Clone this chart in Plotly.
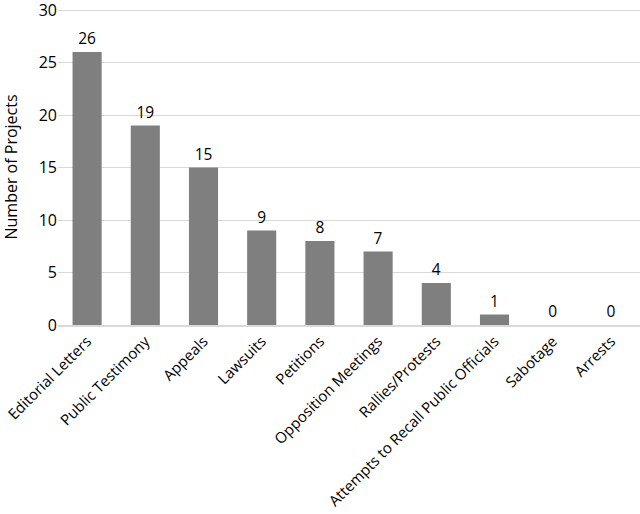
import plotly.graph_objects as go

categories = ["Editorial Letters", "Public Testimony", "Appeals", "Lawsuits", "Petitions",
              "Opposition Meetings", "Rallies/Protests", "Attempts to Recall Public Officials",
              "Sabotage", "Arrests"]
values = [26, 19, 15, 9, 8, 7, 4, 1, 0, 0]
y_ticks = [0, 5, 10, 15, 20, 25, 30]

font = "Open Sans, Liberation Sans, sans-serif"
fig = go.Figure(go.Bar(
    x=categories, y=values, marker_color="#7f7f7f",
    text=[str(v) for v in values], textposition="outside",
    textfont=dict(size=15.5, color="#000000", family=font), cliponaxis=False,
))
fig.update_layout(
    template="none",
    width=640, height=514,
    margin=dict(l=58, r=0, t=9, b=189, autoexpand=False),
    paper_bgcolor="white", plot_bgcolor="white",
    bargap=0.5, showlegend=False,
    font=dict(family=font, size=15, color="#000000"),
)
fig.update_xaxes(tickangle=-45, tickfont=dict(size=15), showline=True, linecolor="#d9d9d9",
                 linewidth=1.5, ticks="", showgrid=False, automargin=False)
fig.update_yaxes(range=[0, 30.1], tickvals=y_ticks, showgrid=True, gridcolor="#d9d9d9",
                 gridwidth=1, zeroline=False, tickfont=dict(size=16), ticks="",
                 showline=False, automargin=False, ticklabeloverflow="allow",
                 title=dict(text="Number of Projects", font=dict(size=16), standoff=17))
fig.write_html("out.html", config={"displayModeBar": False},
               post_script="document.body.style.margin='0';document.body.style.overflow='hidden';")
